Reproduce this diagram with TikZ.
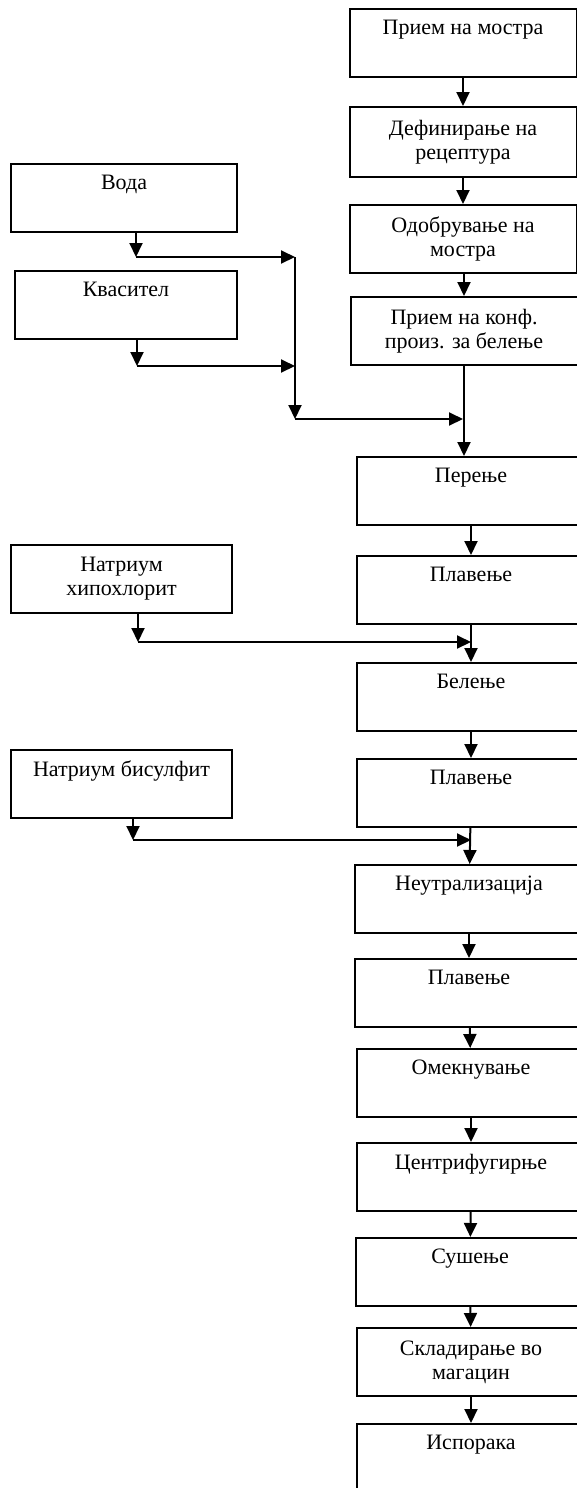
\documentclass[tikz,border=0pt]{standalone}
\usepackage{fontspec}
\setmainfont{Liberation Serif}
\usetikzlibrary{arrows.meta}

\tikzset{
	box/.style={draw, line width=1pt, minimum height=34pt, align=center,
		inner sep=2pt, font=\fontsize{11}{12}\selectfont},
	topbox/.style={box, minimum width=113.5pt},
	lowbox/.style={box, minimum width=114pt},
	inbox/.style={box, minimum width=111pt},
	>={Triangle[length=7pt,width=6.5pt]}
}

\begin{document}
\begin{tikzpicture}[x=0.5pt,y=-0.5pt,line width=1pt]
	\useasboundingbox (0,0) rectangle (577,1488);
	% main line
	\node[topbox] (P1) at (463,43) {Прием на мостра\\ \strut};
	\node[topbox, minimum height=35pt] (P2) at (463,142) {Дефинирање на\\ рецептура};
	\node[topbox] (P3) at (463,239) {Одобрување на\\ мостра};
	\node[topbox] (P4) at (464,331) {Прием на конф.\\ произ. за белење};
	\node[lowbox] (P5) at (471,491) {Перење\\ \strut};
	\node[lowbox] (P6) at (471,590) {Плавење\\ \strut};
	\node[lowbox] (P7) at (471,697) {Белење\\ \strut};
	\node[lowbox] (P8) at (471,793) {Плавење\\ \strut};
	\node[lowbox] (P9) at (469,899) {Неутрализација\\ \strut};
	\node[lowbox] (P10) at (469,993) {Плавење\\ \strut};
	\node[lowbox] (P11) at (471,1083) {Омекнување\\ \strut};
	\node[lowbox] (P12) at (471,1177) {Центрифугирње\\ \strut};
	\node[lowbox] (P13) at (470,1272) {Сушење\\ \strut};
	\node[lowbox] (P14) at (471,1362) {Складирање во\\ магацин};
	\node[lowbox] (P15) at (471,1458) {Испорака\\ \strut};
	% inputs
	\node[inbox, minimum width=113pt] (W) at (124,198) {Вода\\ \strut};
	\node[inbox] (K) at (126,305) {Квасител\\ \strut};
	\node[inbox, minimum width=110.5pt] (H) at (121.5,579) {Натриум\\ хипохлорит};
	\node[inbox, minimum width=110.5pt] (S) at (121.5,784) {Натриум бисулфит\\ \strut};
	%
	\coordinate (W1) at (136,257);
	\coordinate (W2) at (295,257);
	\coordinate (K1) at (137,366);
	\coordinate (K2) at (295,366);
	\coordinate (M1) at (295,419);
	\coordinate (M2) at (463,419);
	\coordinate (H1) at (138,642);
	\coordinate (H2) at (471,642);
	\coordinate (S1) at (133,840);
	\coordinate (S2) at (471,840);
	%
	\path[->]
	(P1) edge (P2)
	(P2) edge (P3)
	(P3.south -| P4) edge (P4)
	(P4.south) edge (P4.south |- P5.north)
	(P5) edge (P6)
	(P6) edge (P7)
	(P7) edge (P8)
	(P8) edge (P9)
	(P9) edge (P10)
	(P10) edge (P11)
	(P11) edge (P12)
	(P12) edge (P13)
	(P13) edge (P14)
	(P14) edge (P15)
	(W.south -| W1) edge (W1)
	(W1) edge (W2)
	(K.south -| K1) edge (K1)
	(K1) edge (K2)
	(W2) edge (M1)
	(M1) edge (M2)
	(H.south -| H1) edge (H1)
	(H1) edge (H2)
	(S.south -| S1) edge (S1)
	(S1) edge (S2);
\end{tikzpicture}
\end{document}
